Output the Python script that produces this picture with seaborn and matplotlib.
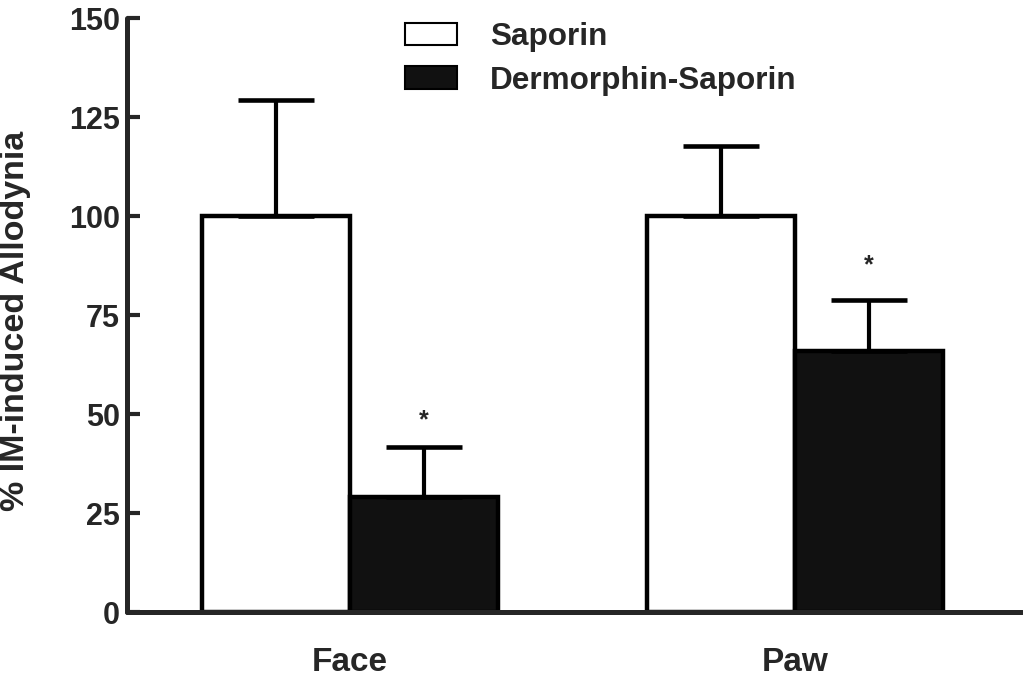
import matplotlib
matplotlib.use('Agg')
import matplotlib.pyplot as plt
from matplotlib.patches import Patch
import seaborn as sns
import pandas as pd

# Data
sites = ['Face', 'Paw']
treatments = ['Saporin', 'Dermorphin-Saporin']
saporin_mean = [100, 100]
saporin_sem = [29.3, 17.8]
dermorphin_mean = [29.0, 66.0]
dermorphin_sem = [12.8, 12.8]
star_y = [48.5, 87.7]

df = pd.DataFrame({
    'Site': sites * 2,
    'Treatment': [treatments[0]] * 2 + [treatments[1]] * 2,
    'Value': saporin_mean + dermorphin_mean,
    'SEM': saporin_sem + dermorphin_sem,
})

sns.set_style('ticks')
plt.rcParams['font.family'] = ['Liberation Sans', 'DejaVu Sans']
plt.rcParams['font.weight'] = 'bold'

fig = plt.figure(figsize=(10.23, 6.75), dpi=100)
ax = fig.add_axes([0.1246, 0.0933, 0.8744, 0.8793])

colors = ['white', '#111111']
sns.barplot(data=df, x='Site', y='Value', hue='Treatment', order=sites,
            hue_order=treatments, palette=colors, width=0.666,
            edgecolor='black', linewidth=3.2, errorbar=None, ax=ax, legend=False,
            saturation=1)

# error bars (upper only) at bar centres
for patch, (_, row) in zip(ax.patches, df.iterrows()):
    cx = patch.get_x() + patch.get_width() / 2
    ax.errorbar(cx, row['Value'], yerr=[[0], [row['SEM']]], fmt='none',
                ecolor='black', elinewidth=3, capsize=27.5, capthick=3.3,
                zorder=1)

# significance stars above Dermorphin-Saporin bars
derm_patches = ax.patches[2:4]
for p, sy in zip(derm_patches, star_y):
    ax.text(p.get_x() + p.get_width() / 2, sy, '*', ha='center', va='center',
            fontsize=18, fontweight='bold')

ax.set_ylim(0, 150)
ax.set_xlim(-0.5, 1.51)
ax.set_yticks([0, 25, 50, 75, 100, 125, 150])
ax.tick_params(axis='y', direction='in', length=9, width=3, pad=5.5,
               labelsize=22)
ax.tick_params(axis='x', length=0, pad=25, labelsize=24)
for lab in ax.get_xticklabels() + ax.get_yticklabels():
    lab.set_fontweight('bold')

sns.despine(ax=ax)
for s in ['left', 'bottom']:
    ax.spines[s].set_linewidth(3.6)
    ax.spines[s].set_capstyle('round')

ax.set_xlabel('')
ax.set_ylabel('% IM-induced Allodynia', fontsize=24.5, fontweight='bold')
ax.yaxis.set_label_coords(-0.108, 0.49)

handles = [Patch(facecolor=c, edgecolor='black', linewidth=1.5) for c in colors]
ax.legend(handles, treatments, loc='upper left', bbox_to_anchor=(0.396, 0.967),
          bbox_transform=fig.transFigure, frameon=False, borderpad=0,
          borderaxespad=0, handlelength=1.65, handleheight=0.72,
          handletextpad=1.05, labelspacing=0.42,
          prop={'weight': 'bold', 'size': 22.7})

fig.savefig('out.png', dpi=100)
